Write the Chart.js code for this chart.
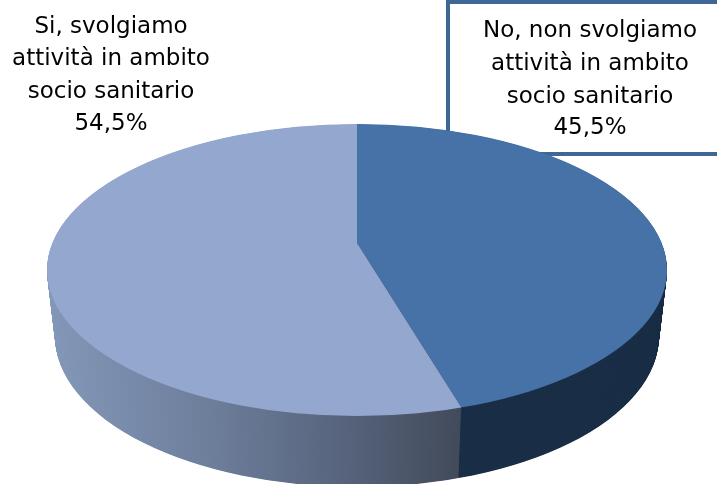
<!DOCTYPE html>
<html><head><meta charset="utf-8">
<style>html,body{margin:0;padding:0;background:#fff;overflow:hidden}#w{position:relative;width:717px;height:484px}</style>
<script src="https://cdn.jsdelivr.net/npm/chart.js@4"></script>
</head><body><div id="w"><canvas id="c" width="717" height="484"></canvas></div>
<script>
const categories = ["No, non svolgiamo attività in ambito socio sanitario", "Si, svolgiamo attività in ambito socio sanitario"];
const labelLines = [["No, non svolgiamo","attività in ambito","socio sanitario"],["Si, svolgiamo","attività in ambito","socio sanitario"]];
const values = [45.5, 54.5];

const TOP_COLORS = ["#4672a7", "#94a8cf"];
const FLAT = 0.458;
const RIM = {cx:357, cy:270, rx:310, ry:146};
const BASE = {cy:336, rx:302, ry:151};
const LAYERS = 140;
const LABEL_POS = [{x:590, y:[31,64,97,128]},{x:111, y:[27,59,92,124]}];
const FONT = '23px "DejaVu Sans"';

function drawArcs(chart, colors){
  const ctx = chart.ctx;
  const meta = chart.getDatasetMeta(0);
  meta.data.forEach((el,i)=>{
    const f = Object.create(el);
    f.options = Object.assign(Object.create(el.options), {backgroundColor:colors[i], borderWidth:0, borderColor:'transparent'});
    const a = el.getProps(['x','y'],true);
    ctx.save();
    ctx.translate(a.x,a.y); ctx.scale(1,FLAT); ctx.translate(-a.x,-a.y);
    f.draw(ctx);
    ctx.restore();
  });
}
function layer(ctx,chart,t,colors){
  const cy = RIM.cy+(BASE.cy-RIM.cy)*t, rx = RIM.rx+(BASE.rx-RIM.rx)*t, ry = RIM.ry+(BASE.ry-RIM.ry)*t;
  ctx.save();
  ctx.translate(RIM.cx,cy); ctx.scale(rx/RIM.rx, ry/RIM.ry); ctx.translate(-RIM.cx,-RIM.cy);
  ctx.beginPath(); ctx.ellipse(RIM.cx,RIM.cy,RIM.rx,RIM.ry,0,0,Math.PI*2); ctx.clip();
  drawArcs(chart,colors);
  ctx.restore();
}
const pie3d = {
  id:'pie3d',
  beforeDraw(chart){
    const ctx = chart.ctx;
    ctx.save();
    ctx.fillStyle='#fff'; ctx.fillRect(0,0,717,484);
    ctx.strokeStyle='#3f6695'; ctx.lineWidth=4;
    ctx.strokeRect(448,2,280,152);
    ctx.restore();
  },
  beforeDatasetDraw(chart){
    const ctx = chart.ctx;
    const g = ctx.createLinearGradient(47,0,460,0);
    g.addColorStop(0,'#8397b8'); g.addColorStop(0.38,'#6e7f9c'); g.addColorStop(0.7,'#58657e'); g.addColorStop(1,'#424b5b');
    const wall = ['#1b2f47', g];
    for(let k=LAYERS;k>0;k--) layer(ctx,chart,k/LAYERS,wall);
    layer(ctx,chart,0,TOP_COLORS);
    return false;
  },
  afterDraw(chart){
    const ctx = chart.ctx;
    ctx.save();
    ctx.fillStyle='#000'; ctx.font=FONT; ctx.textAlign='center'; ctx.textBaseline='middle';
    values.forEach((v,i)=>{
      const p = LABEL_POS[i];
      labelLines[i].concat([v.toFixed(1).replace('.',',')+'%']).forEach((s,j)=>ctx.fillText(s,p.x,p.y[j]));
    });
    ctx.restore();
  }
};
new Chart(document.getElementById('c'),{
  type:'pie',
  data:{labels:categories,datasets:[{data:values,backgroundColor:TOP_COLORS,borderWidth:0,radius:900}]},
  options:{responsive:false,animation:false,devicePixelRatio:1,
    layout:{padding:{right:3,top:2}},
    events:[],
    plugins:{legend:{display:false},tooltip:{enabled:false}}},
  plugins:[pie3d]
});
</script></body></html>
